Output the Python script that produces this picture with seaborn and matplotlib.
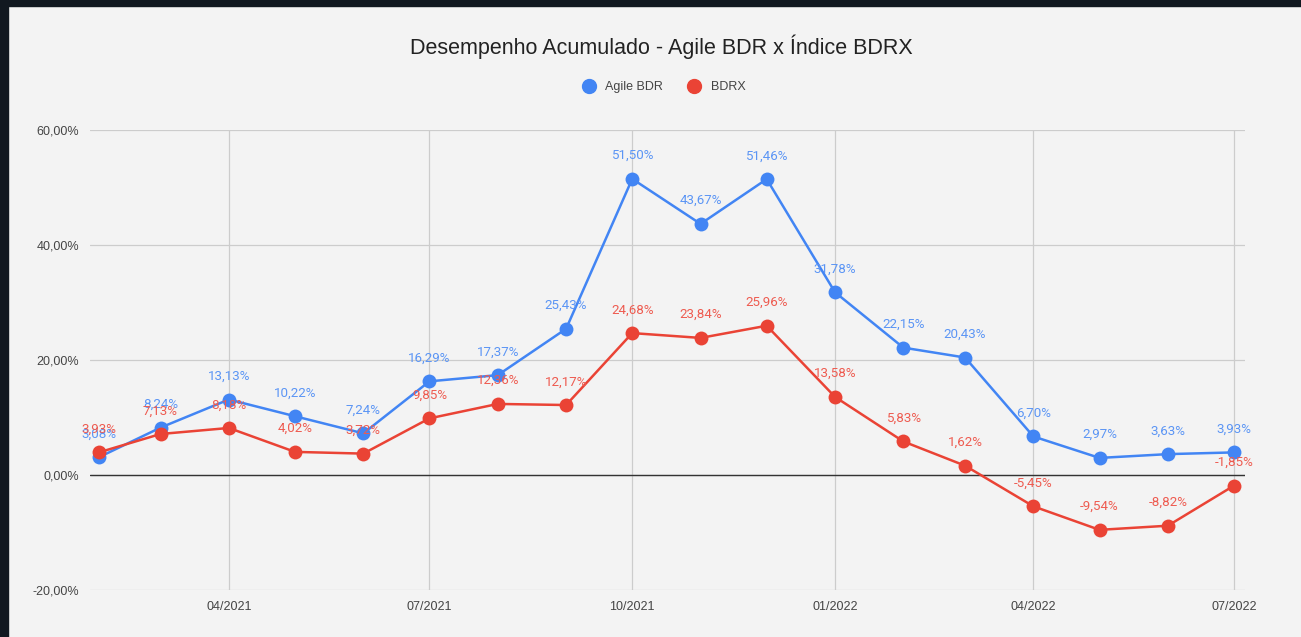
import matplotlib
matplotlib.use('Agg')
import matplotlib.pyplot as plt
import matplotlib.dates as mdates
from matplotlib.patches import Rectangle
from matplotlib.ticker import FuncFormatter
from matplotlib.lines import Line2D
import seaborn as sns
import pandas as pd

months = pd.date_range('2021-02-01', '2022-07-01', freq='MS')
agile = [3.08, 8.24, 13.13, 10.22, 7.24, 16.29, 17.37, 25.43, 51.50, 43.67,
         51.46, 31.78, 22.15, 20.43, 6.70, 2.97, 3.63, 3.93]
bdrx = [3.93, 7.13, 8.18, 4.02, 3.72, 9.85, 12.36, 12.17, 24.68, 23.84,
        25.96, 13.58, 5.83, 1.62, -5.45, -9.54, -8.82, -1.85]
series_names = ['Agile BDR', 'BDRX']
colors = ['#4285f4', '#ea4335']
label_colors = ['#5b95f5', '#ee5b50']

df = pd.concat([
    pd.DataFrame({'mes': months, 'valor': agile, 'serie': series_names[0]}),
    pd.DataFrame({'mes': months, 'valor': bdrx, 'serie': series_names[1]}),
])

sns.set_style('white')
plt.rcParams['font.family'] = ['Liberation Sans', 'DejaVu Sans']

fig = plt.figure(figsize=(13.01, 6.37), dpi=100, facecolor='#f3f3f3')
# dark frame around the panel (screenshot border)
fig.patches.append(Rectangle((0, 0), 8 / 1301, 1, transform=fig.transFigure,
                             color='#111820', zorder=0))
fig.patches.append(Rectangle((0, 1 - 6 / 637), 1, 6 / 637, transform=fig.transFigure,
                             color='#111820', zorder=0))

ax = fig.add_axes([90 / 1301, 1 - 590 / 637, (1245 - 90) / 1301, 460 / 637])
ax.set_facecolor('#f3f3f3')

sns.lineplot(data=df, x='mes', y='valor', hue='serie', palette=colors,
             marker='o', markersize=10, markeredgewidth=0, linewidth=1.8,
             ax=ax, legend=False, zorder=3)

ax.set_ylim(-20, 60)
ax.set_yticks([-20, 0, 20, 40, 60])
ax.yaxis.set_major_formatter(FuncFormatter(lambda v, p: f'{v:.2f}%'.replace('.', ',')))
ax.set_xlim(pd.Timestamp('2021-01-28'), pd.Timestamp('2022-07-06'))
ticks = pd.to_datetime(['2021-04-01', '2021-07-01', '2021-10-01', '2022-01-01',
                        '2022-04-01', '2022-07-01'])
ax.set_xticks(ticks)
ax.xaxis.set_major_formatter(mdates.DateFormatter('%m/%Y'))
ax.tick_params(axis='both', length=0, labelsize=9, colors='#444444')
ax.tick_params(axis='y', pad=8)
ax.tick_params(axis='x', pad=8)
ax.grid(True, color='#cccccc', linewidth=0.9)
ax.axhline(0, color='#333333', linewidth=1, zorder=2)
for s in ax.spines.values():
    s.set_visible(False)
ax.set_xlabel('')
ax.set_ylabel('')

for vals, col in zip([agile, bdrx], label_colors):
    for m, v in zip(months, vals):
        ax.annotate(f'{v:.2f}%'.replace('.', ','), (m, v), xytext=(0, 12),
                    textcoords='offset points', ha='center', va='bottom',
                    fontsize=9.6, color=col, family=['Roboto', 'DejaVu Sans'], zorder=5)

fig.text(0.508, 1 - 47 / 637, 'Desempenho Acumulado - Agile BDR x Índice BDRX',
         ha='center', va='center', fontsize=15.5, color='#222222')

handles = [Line2D([], [], marker='o', linestyle='', color=c, markersize=10) for c in colors]
fig.legend(handles, series_names, loc='center', bbox_to_anchor=(0.508, 1 - 87 / 637),
           ncol=2, frameon=False, fontsize=9, handletextpad=0.3, columnspacing=1.5,
           labelcolor='#444444')

fig.savefig('out.png', dpi=100, facecolor=fig.get_facecolor())
